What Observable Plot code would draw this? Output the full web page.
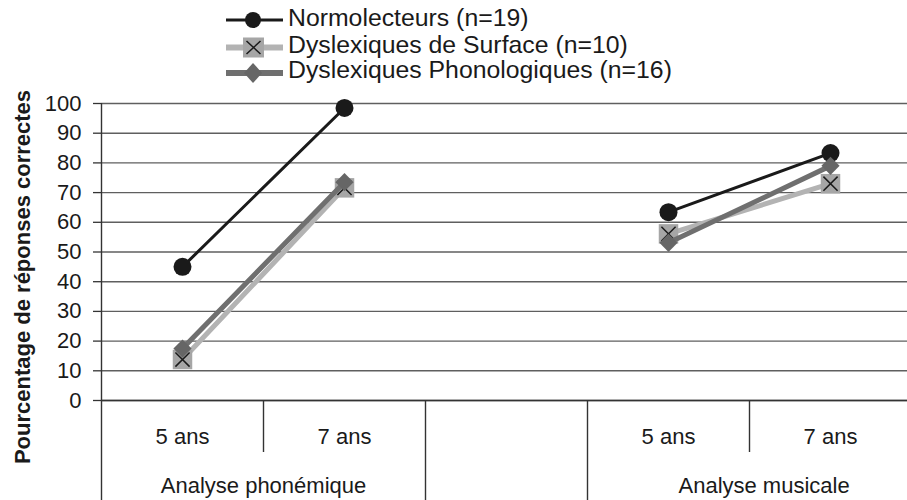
<!DOCTYPE html>
<html><head><meta charset="utf-8">
<script src="https://cdn.jsdelivr.net/npm/d3@7"></script>
<script src="https://cdn.jsdelivr.net/npm/@observablehq/plot@0.6"></script>
<style>
body{margin:0;background:#fff;font-family:"Liberation Sans",Arial,sans-serif;overflow:hidden;}
#chart svg{display:block}
</style></head><body>
<div id="chart"></div>
<script>
// ---- data ----
const tests = ["Analyse phonémique", "Analyse musicale"];
const ages = ["5 ans", "7 ans"];
const seriesNames = ["Normolecteurs (n=19)", "Dyslexiques de Surface (n=10)", "Dyslexiques Phonologiques (n=16)"];
// order: phonémique 5 ans, phonémique 7 ans, musicale 5 ans, musicale 7 ans
const normolecteurs = [45, 98.5, 63.4, 83.3];
const surface = [13.8, 71.6, 56.1, 73];
const phonologiques = [17.5, 73.5, 53.1, 79];
const yTicks = [0, 10, 20, 30, 40, 50, 60, 70, 80, 90, 100];
const yTitle = "Pourcentage de réponses correctes";

// ---- styles ----
const styles = [
  {line: "#1a1a1a", width: 3, symbol: "circle", r: 9, fill: "#1a1a1a"},
  {line: "#b3b3b3", width: 5, symbol: "square", r: 11, fill: "#a6a6a6"},
  {line: "#6f6f6f", width: 5, symbol: "diamond2", r: 8.2, fill: "#666666"}
];

// ---- build table ----
const valuesBySeries = [normolecteurs, surface, phonologiques];
const rows = [];
valuesBySeries.forEach((vals, s) => {
  vals.forEach((v, k) => {
    const t = Math.floor(k / 2), a = k % 2;
    rows.push({series: seriesNames[s], si: s, test: tests[t], age: ages[a], col: t * 3 + a, value: v});
  });
});
const colLabels = [];
tests.forEach((t, ti) => ages.forEach((a, ai) => colLabels.push({label: a, col: ti * 3 + ai})));
// the last group's span runs past the right edge, so its label sits a bit right of the two columns' middle
const groupCenters = [0.5, 3.59];
const groupLabels = tests.map((t, ti) => ({label: t, col: groupCenters[ti]}));

// table frame lines below the axis (in y units; the frame is 297px for 100 units)
const yBottom = -100 * 100 / 297;
const yMid = -100 * 52 / 297;
const boundaries = [
  {x: -0.5, y1: 100, y2: yBottom},
  {x: 0.5, y1: 0, y2: yMid},
  {x: 1.5, y1: 0, y2: yBottom},
  {x: 2.5, y1: 0, y2: yBottom},
  {x: 3.5, y1: 0, y2: yMid}
];

// ---- legend ----
const legendH = 84;
const leg = d3.create("svg").attr("width", 907).attr("height", legendH)
  .style("font-family", '"Liberation Sans", Arial, sans-serif');
const legY = [20, 47.5, 73];
const legBase = [26, 53, 78];
seriesNames.forEach((name, i) => {
  const st = styles[i];
  const y = legY[i];
  const g = leg.append("g");
  g.append("line").attr("x1", 226).attr("x2", 283).attr("y1", y).attr("y2", y)
    .attr("stroke", st.line).attr("stroke-width", i === 0 ? 3 : 6);
  if (i === 0) {
    g.append("circle").attr("cx", 253).attr("cy", y).attr("r", 8).attr("fill", st.fill);
  } else if (i === 1) {
    g.append("rect").attr("x", 243).attr("y", y - 10).attr("width", 21).attr("height", 20).attr("fill", st.fill);
    g.append("path").attr("d", `M${246.5},${y-6.5}L${260.5},${y+6.5}M${260.5},${y-6.5}L${246.5},${y+6.5}`)
      .attr("stroke", "#1a1a1a").attr("stroke-width", 1.5);
  } else {
    g.append("path").attr("d", `M253,${y-10}L262,${y}L253,${y+10}L244,${y}Z`).attr("fill", st.fill);
  }
  g.append("text").attr("x", 288).attr("y", legBase[i]).attr("font-size", 24.8).attr("fill", "#1a1a1a").text(name);
});
document.getElementById("chart").append(leg.node());

// ---- plot ----
const chart = Plot.plot({
  width: 907,
  height: 500 - legendH,
  marginTop: 103 - legendH,
  marginBottom: 100,
  marginLeft: 101,
  marginRight: 0,
  style: {fontFamily: '"Liberation Sans", Arial, sans-serif', color: "#1a1a1a", background: "#fff", overflow: "visible"},
  x: {type: "linear", domain: [-0.5, 4.5], range: [101, 911], axis: null},
  y: {domain: [0, 100], axis: null},
  marks: [
    Plot.gridY(yTicks, {stroke: "#5f5f5f", strokeOpacity: 1, strokeWidth: 1.4}),
    Plot.ruleY([0], {stroke: "#333", strokeWidth: 1.5}),
    Plot.axisY(yTicks, {tickSize: 8, tickPadding: 12, fontSize: 22, stroke: "#333", strokeWidth: 1.3}),
    Plot.ruleX(boundaries, {x: "x", y1: "y1", y2: "y2", stroke: "#333", strokeWidth: 1.4}),
    Plot.text(colLabels, {x: "col", y: () => 0, dy: 36, text: "label", fontSize: 22, fill: "#1a1a1a"}),
    Plot.text(groupLabels, {x: "col", y: () => 0, dy: 85, text: "label", fontSize: 22, fill: "#1a1a1a"}),
    Plot.text([yTitle], {frameAnchor: "left", textAnchor: "middle", rotate: -90, dx: -79, dy: 25, fontSize: 22, fontWeight: "bold", fill: "#1a1a1a"}),
    ...styles.flatMap((st, s) => {
      const d = rows.filter(r => r.si === s);
      const m = [
        Plot.line(d, {x: "col", y: "value", z: "test", stroke: st.line, strokeWidth: st.width, curve: "linear"}),
        Plot.dot(d, {x: "col", y: "value", symbol: () => st.symbol, r: st.r, fill: st.fill, stroke: "none"})
      ];
      if (s === 1) m.push(Plot.dot(d, {x: "col", y: "value", symbol: () => "times", r: 6.5, stroke: "#1a1a1a", strokeWidth: 1.5}));
      return m;
    })
  ]
});
chart.style.overflow = "hidden";
document.getElementById("chart").append(chart);
</script>
</body></html>
